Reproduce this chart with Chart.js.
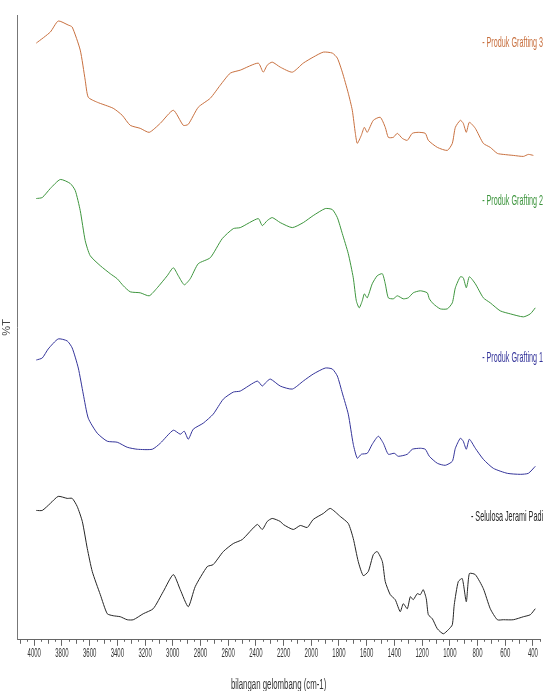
<!DOCTYPE html>
<html>
<head>
<meta charset="utf-8">
<script src="https://cdn.jsdelivr.net/npm/chart.js@4.4.1/dist/chart.umd.min.js"></script>
<style>
  html, body { margin: 0; padding: 0; background: #fff; }
  #wrap { width: 547px; height: 691px; }
</style>
</head>
<body>
<div id="wrap"><canvas id="grafik" width="547" height="691"></canvas></div>
<script>
// spektrum FTIR, nilai %T (satuan relatif, sudah digeser per kurva)

const namaKurva = ['- Selulosa Jerami Padi', '- Produk Grafting 1', '- Produk Grafting 2', '- Produk Grafting 3'];
const warnaKurva = ['#262626', '#34349a', '#3d953d', '#c8703f'];
const posisiLabel = [123, 281, 438, 595];   // tinggi label tiap kurva (satuan sumbu y)
const labelSumbuX = [4000, 3800, 3600, 3400, 3200, 3000, 2800, 2600, 2400, 2200, 2000, 1800, 1600, 1400, 1200, 1000, 800, 600, 400];
const judulX = 'bilangan gelombang (cm-1)';

// Selulosa Jerami Padi
const bilSelulosa = [3985,3942,3884,3827,3762,3726,3690,3653,3617,3581,3523,3473,3430,3379,3329,3285,3213,3141,3069,2996,2946,2888,2838,2751,2708,2635,2563,2498,2390,2354,2318,2282,2224,2202,2130,2079,2029,1986,1913,1863,1791,1733,1697,1661,1625,1589,1552,1524,1487,1466,1430,1394,1358,1336,1307,1285,1264,1235,1213,1192,1170,1155,1126,1090,1047,1011,982,968,939,910,881,859,816,758,708,657,614,542,469,419,383];
const tSelulosa = [129,129,136,143,141,141,133,118,91,68,45,26,24,23,20,20,26,31,48,65,50,33,53,73,75,88,96,100,115,110,118,121,118,115,110,114,112,120,126,131,123,116,101,78,64,68,85,88,78,58,45,40,28,36,31,43,40,46,45,50,41,25,21,11,6,10,15,35,58,61,38,66,65,51,31,20,20,20,23,25,31];

// Produk Grafting 1
const bilGraft1 = [3985,3942,3899,3827,3762,3726,3682,3646,3610,3545,3473,3401,3329,3256,3148,3090,2996,2946,2917,2888,2852,2780,2708,2635,2563,2513,2390,2354,2332,2296,2224,2137,2058,1986,1899,1848,1812,1776,1733,1697,1668,1639,1596,1560,1516,1480,1444,1401,1372,1307,1271,1213,1177,1148,1090,1033,982,960,924,903,881,859,816,758,686,585,491,433,383];
const tGraft1 = [279,281,290,300,298,291,271,245,221,206,198,197,192,190,190,196,209,205,208,200,210,216,225,240,247,248,258,253,256,260,253,250,258,265,271,270,263,246,225,195,181,185,186,195,203,196,185,186,183,185,190,191,190,183,176,174,178,191,201,198,190,200,191,180,171,166,165,166,173];

// Produk Grafting 2
const bilGraft2 = [3985,3942,3884,3812,3740,3704,3668,3632,3596,3523,3451,3401,3357,3307,3235,3170,3112,3040,2996,2960,2917,2874,2816,2729,2643,2563,2513,2383,2354,2318,2282,2224,2137,2058,1986,1899,1848,1812,1776,1733,1697,1675,1654,1632,1617,1596,1560,1524,1487,1466,1444,1408,1379,1336,1300,1264,1213,1163,1148,1119,1069,1018,982,960,924,903,881,859,816,758,708,636,563,469,419,383];
const tGraft2 = [440,441,450,459,455,448,428,398,383,373,365,360,353,347,346,343,351,363,371,363,354,360,375,381,400,410,411,420,413,418,421,416,411,416,423,430,429,421,405,385,361,338,331,338,345,341,355,363,365,355,341,340,343,340,341,346,348,346,340,335,330,330,336,351,362,361,351,362,355,341,336,328,325,322,325,331];

// Produk Grafting 3
const bilGraft3 = [3985,3884,3827,3755,3726,3668,3632,3610,3545,3430,3365,3307,3235,3170,3090,2996,2924,2888,2816,2729,2657,2585,2513,2383,2347,2318,2282,2224,2137,2058,1986,1913,1848,1812,1776,1733,1704,1682,1668,1639,1617,1596,1552,1502,1466,1444,1408,1379,1343,1307,1271,1228,1177,1155,1090,1018,982,960,924,903,881,859,816,758,708,657,614,542,469,433,397];
const tGraft3 = [595,606,617,613,611,588,558,541,536,530,523,513,510,506,515,528,513,514,531,540,553,565,568,575,566,573,576,571,566,575,581,586,585,580,566,545,528,505,495,503,511,506,518,521,511,501,501,505,500,498,505,506,505,498,491,488,495,511,518,515,506,516,510,495,491,485,484,483,482,484,483];

const bilangan = [bilSelulosa, bilGraft1, bilGraft2, bilGraft3];
const transmitan = [tSelulosa, tGraft1, tGraft2, tGraft3];

const huruf = "'Liberation Sans', Arial, sans-serif";

const datasets = namaKurva.map((nama, i) => ({
  label: nama,
  data: bilangan[i].map((x, j) => ({ x: x, y: transmitan[i][j] })),
  borderColor: warnaKurva[i],
  borderWidth: 1,
  pointRadius: 0,
  tension: 0.2,
  fill: false
}));

// tulis teks yang dipadatkan (font aslinya sangat sempit)
function tulisSempit(ctx, teks, x, y, skala) {
  ctx.save();
  ctx.translate(x, y);
  ctx.scale(skala, 1);
  ctx.fillText(teks, 0, 0);
  ctx.restore();
}

// label kurva di kanan, label tick sumbu x, judul x dan tick kecil
const pluginLabel = {
  id: 'labelKurva',
  afterDraw(chart) {
    const ctx = chart.ctx;
    const sx = chart.scales.x, sy = chart.scales.y;
    const area = chart.chartArea;
    ctx.save();
    ctx.font = "15px " + huruf;
    ctx.textAlign = 'right';
    ctx.textBaseline = 'middle';
    namaKurva.forEach((nama, i) => {
      ctx.fillStyle = warnaKurva[i];
      tulisSempit(ctx, nama, area.right + 3, sy.getPixelForValue(posisiLabel[i]), 0.48);
    });

    // label tick
    ctx.fillStyle = '#333';
    ctx.font = "12px " + huruf;
    ctx.textAlign = 'center';
    labelSumbuX.forEach(v => {
      tulisSempit(ctx, String(v), sx.getPixelForValue(v), area.bottom + 14, 0.5);
    });
    ctx.font = "14px " + huruf;
    tulisSempit(ctx, judulX, (area.left + area.right) / 2, area.bottom + 45, 0.56);

    // tick kecil: tiap 100 lebih panjang, tiap 50 pendek
    ctx.strokeStyle = '#666';
    ctx.lineWidth = 1;
    for (let v = 4100; v >= 350; v -= 50) {
      if (v % 200 === 0) continue;
      const px = Math.round(sx.getPixelForValue(v)) + 0.5;
      const panjang = (v % 100 === 0) ? 4 : 2;
      ctx.beginPath();
      ctx.moveTo(px, area.bottom);
      ctx.lineTo(px, area.bottom + panjang);
      ctx.stroke();
    }
    ctx.restore();
  }
};

new Chart(document.getElementById('grafik'), {
  type: 'line',
  data: { datasets: datasets },
  options: {
    responsive: false,
    animation: false,
    layout: { padding: { top: 15, right: 7, left: 0, bottom: 0 } },
    plugins: {
      legend: { display: false },
      tooltip: { enabled: false }
    },
    scales: {
      x: {
        type: 'linear',
        reverse: true,
        min: 349,
        max: 4123,
        afterBuildTicks: (scale) => { scale.ticks = labelSumbuX.map(v => ({ value: v })); },
        ticks: {
          autoSkip: false,
          maxRotation: 0,
          color: 'rgba(0,0,0,0)',   // digambar ulang dengan huruf sempit di plugin
          padding: 3,
          font: { family: huruf, size: 10 },
          callback: (v) => String(v)
        },
        grid: { drawOnChartArea: false, tickLength: 6, color: '#666' },
        border: { color: '#666', width: 1 },
        title: {
          display: true,
          text: judulX,
          color: 'rgba(0,0,0,0)',
          padding: { top: 12, bottom: 2 },
          font: { family: huruf, size: 11 }
        }
      },
      y: {
        min: 0,
        max: 623,
        ticks: { display: false },
        grid: { display: false, drawTicks: false },
        border: { color: '#777', width: 1 },
        title: {
          display: true,
          text: '%T',
          color: '#444',
          padding: { top: 0, bottom: 4 },
          font: { family: huruf, size: 11 }
        }
      }
    }
  },
  plugins: [pluginLabel]
});
</script>
</body>
</html>
